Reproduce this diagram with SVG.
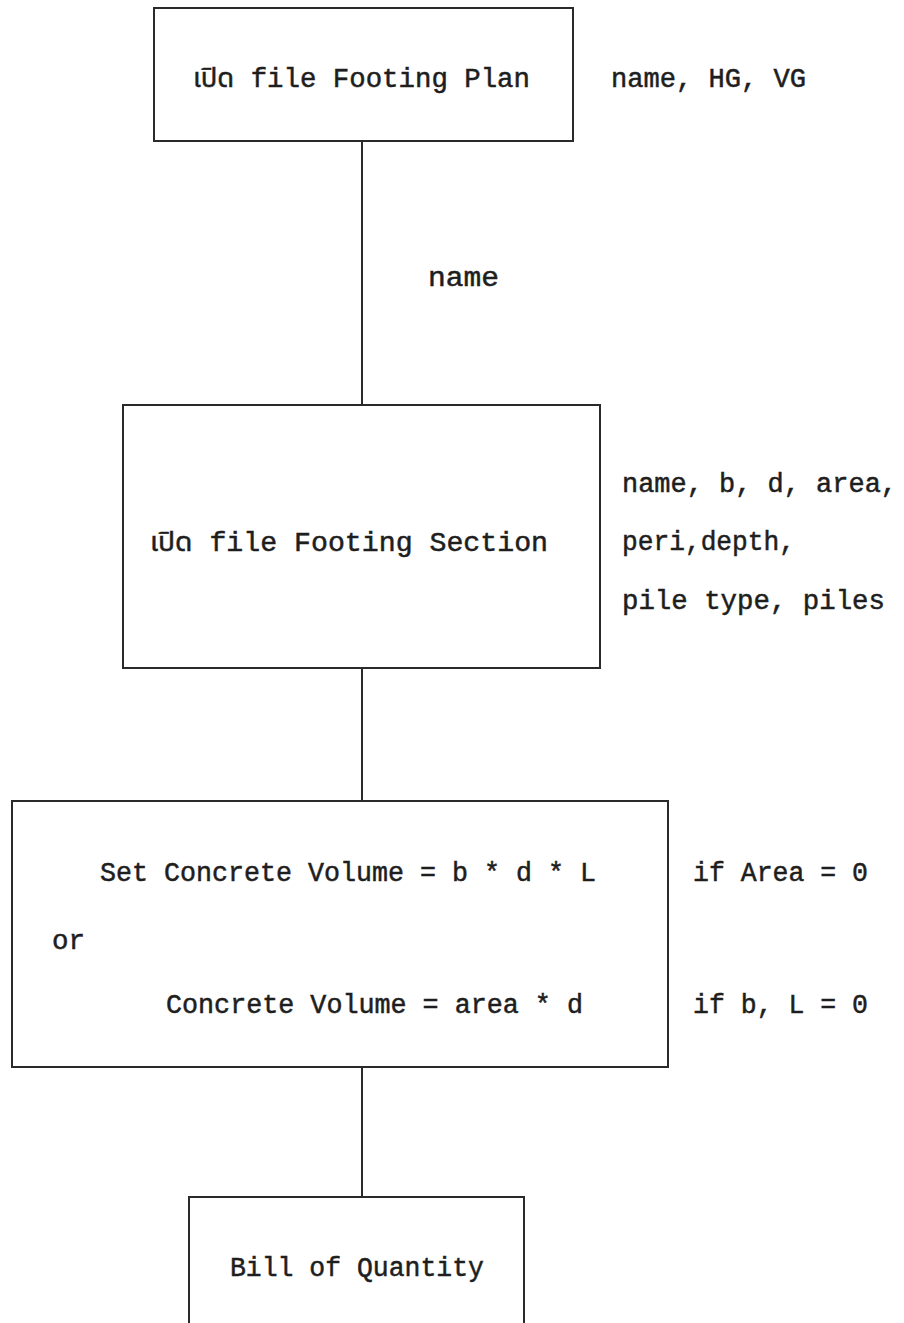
<svg xmlns="http://www.w3.org/2000/svg" width="904" height="1323" viewBox="0 0 904 1323">
  <style>
    .box { fill: none; stroke: #2a2a2a; stroke-width: 2; }
    .link { stroke: #2a2a2a; stroke-width: 2; fill: none; }
    .t { font-family: "Liberation Mono", "Noto Sans Thai", "DejaVu Sans Mono", monospace; font-size: 27px; fill: #1e1e1e; stroke: #1e1e1e; stroke-width: 0.5; }
  </style>
  <rect width="904" height="1323" fill="#ffffff"/>

  <g id="connectors">
    <line class="link" x1="362" y1="141" x2="362" y2="405"/>
    <line class="link" x1="362" y1="668" x2="362" y2="801"/>
    <line class="link" x1="362" y1="1067" x2="362" y2="1197"/>
    <text class="t" x="428" y="286" textLength="71" lengthAdjust="spacingAndGlyphs">name</text>
  </g>

  <g id="open-plan">
    <rect class="box" x="154" y="8" width="419" height="133"/>
    <text class="t" x="193" y="87" textLength="337" lengthAdjust="spacingAndGlyphs">เปิด file Footing Plan</text>
    <text class="t" x="611" y="87" textLength="195" lengthAdjust="spacingAndGlyphs">name, HG, VG</text>
  </g>

  <g id="open-section">
    <rect class="box" x="123" y="405" width="477" height="263"/>
    <text class="t" x="150" y="551" textLength="398" lengthAdjust="spacingAndGlyphs">เปิด file Footing Section</text>
    <text class="t" x="622" y="492" textLength="275" lengthAdjust="spacingAndGlyphs">name, b, d, area,</text>
    <text class="t" x="622" y="550" textLength="173" lengthAdjust="spacingAndGlyphs">peri,depth,</text>
    <text class="t" x="622" y="609" textLength="263" lengthAdjust="spacingAndGlyphs">pile type, piles</text>
  </g>

  <g id="concrete-volume">
    <rect class="box" x="12" y="801" width="656" height="266"/>
    <text class="t" x="100" y="881" textLength="496" lengthAdjust="spacingAndGlyphs">Set Concrete Volume = b * d * L</text>
    <text class="t" x="52" y="949" textLength="33" lengthAdjust="spacingAndGlyphs">or</text>
    <text class="t" x="166" y="1013" textLength="417" lengthAdjust="spacingAndGlyphs">Concrete Volume = area * d</text>
    <text class="t" x="693" y="881" textLength="175" lengthAdjust="spacingAndGlyphs">if Area = 0</text>
    <text class="t" x="693" y="1013" textLength="175" lengthAdjust="spacingAndGlyphs">if b, L = 0</text>
  </g>

  <g id="bill-of-quantity">
    <rect class="box" x="189" y="1197" width="335" height="140"/>
    <text class="t" x="230" y="1276" textLength="254" lengthAdjust="spacingAndGlyphs">Bill of Quantity</text>
  </g>
</svg>
